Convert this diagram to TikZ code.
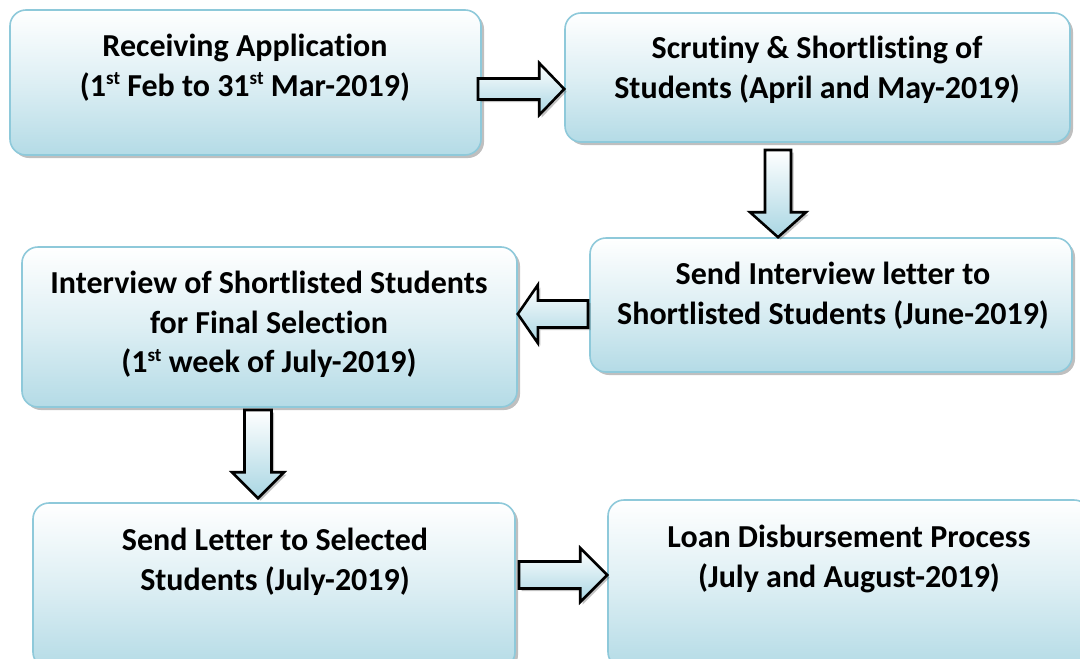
\documentclass[tikz,border=0pt]{standalone}
\usepackage{fontspec}
\setmainfont{Carlito}[Ligatures={NoCommon}]
\usetikzlibrary{calc,shadows}
\definecolor{boxblue}{HTML}{B4DBE6}
\definecolor{boxborder}{HTML}{8EC9DA}
\definecolor{arrblue}{HTML}{A9D6E3}
\newcommand\supst[1]{\raisebox{0.36em}{\fontsize{19}{19}\selectfont #1}}
\tikzset{
  box/.style={draw=boxborder, line width=1.6pt, rounded corners=16pt,
    top color=white, bottom color=boxblue, middle color=boxblue!45,
    drop shadow={shadow xshift=3pt, shadow yshift=-3pt, opacity=0.45, fill=black!55},
    inner sep=0pt},
  lbl/.style={anchor=north, align=center, inner sep=0pt,
    font=\fontsize{32}{39.5}\selectfont\bfseries},
  barrow/.style={draw=black, line width=2.6pt, line join=miter,
    top color=white, bottom color=arrblue,
    drop shadow={shadow xshift=2.5pt, shadow yshift=-2.5pt, opacity=0.4, fill=black!60}},
}
% horizontal block arrow: start, tip, head length, shaft half, head half, direction (1 right, -1 left)
\newcommand\hblock[6]{%
  \draw[barrow] ($(#1)+(0,-#4)$) -- ($(#2)+({-#6*#3},-#4)$) -- ($(#2)+({-#6*#3},-#5)$) -- (#2)
    -- ($(#2)+({-#6*#3},#5)$) -- ($(#2)+({-#6*#3},#4)$) -- ($(#1)+(0,#4)$) -- cycle;}
% vertical (downward) block arrow: start, tip, head length, shaft half, head half
\newcommand\vblock[5]{%
  \draw[barrow] ($(#1)+(-#4,0)$) -- ($(#2)+(-#4,-#3)$) -- ($(#2)+(-#5,-#3)$) -- (#2)
    -- ($(#2)+(#5,-#3)$) -- ($(#2)+(#4,-#3)$) -- ($(#1)+(#4,0)$) -- cycle;}
\begin{document}
\begin{tikzpicture}[x=1pt,y=-1pt]
\useasboundingbox (0,0) rectangle (1080,659);
\fill[white] (0,0) rectangle (1080,659);
% boxes
\node[box, minimum width=471pt, minimum height=145pt] (b1) at (245.5,82.5) {};
\node[box, minimum width=505pt, minimum height=129pt] (b2) at (817.5,77.5) {};
\node[box, minimum width=482pt, minimum height=134pt] (b3) at (831,305) {};
\node[box, minimum width=495pt, minimum height=160pt] (b4) at (269.5,327) {};
\node[box, minimum width=482pt, minimum height=165pt] (b5) at (274,585.5) {};
\node[box, minimum width=482pt, minimum height=168pt] (b6) at (849,584) {};
% labels
\node[lbl] (t1) at (245,34) {Receiving Application\\(1\supst{st} Feb to 31\supst{st} Mar-2019)};
\node[lbl] (t2) at (817,36) {Scrutiny \& Shortlisting of\\Students (April and May-2019)};
\node[lbl] (t3) at (833,262) {Send Interview letter to\\Shortlisted Students (June-2019)};
\node[lbl] (t4) at (269,271) {Interview of Shortlisted Students\\for Final Selection\\(1\supst{st} week of July-2019)};
\node[lbl] (t5) at (275,528) {Send Letter to Selected\\Students (July-2019)};
\node[lbl] (t6) at (849,525) {Loan Disbursement Process\\(July and August-2019)};
% arrows
\coordinate (a1s) at (478,89);
\coordinate (a1t) at (b2.west |- a1s);
\hblock{a1s}{a1t}{25}{10.5}{26}{1}
\coordinate (a2s) at (778,150);
\coordinate (a2t) at (a2s |- b3.north);
\vblock{a2s}{a2t}{25}{13}{28}
\coordinate (a3s) at (588,314);
\coordinate (a3t) at (b4.east |- a3s);
\hblock{a3s}{a3t}{20}{13.5}{29}{-1}
\coordinate (a4s) at (258,410);
\coordinate (a4t) at ($(a4s |- b5.north)+(0,-4)$);
\vblock{a4s}{a4t}{26}{13.5}{26}
\coordinate (a5s) at (519,575);
\coordinate (a5t) at (b6.west |- a5s);
\hblock{a5s}{a5t}{27}{13.5}{27}{1}
\end{tikzpicture}
\end{document}
